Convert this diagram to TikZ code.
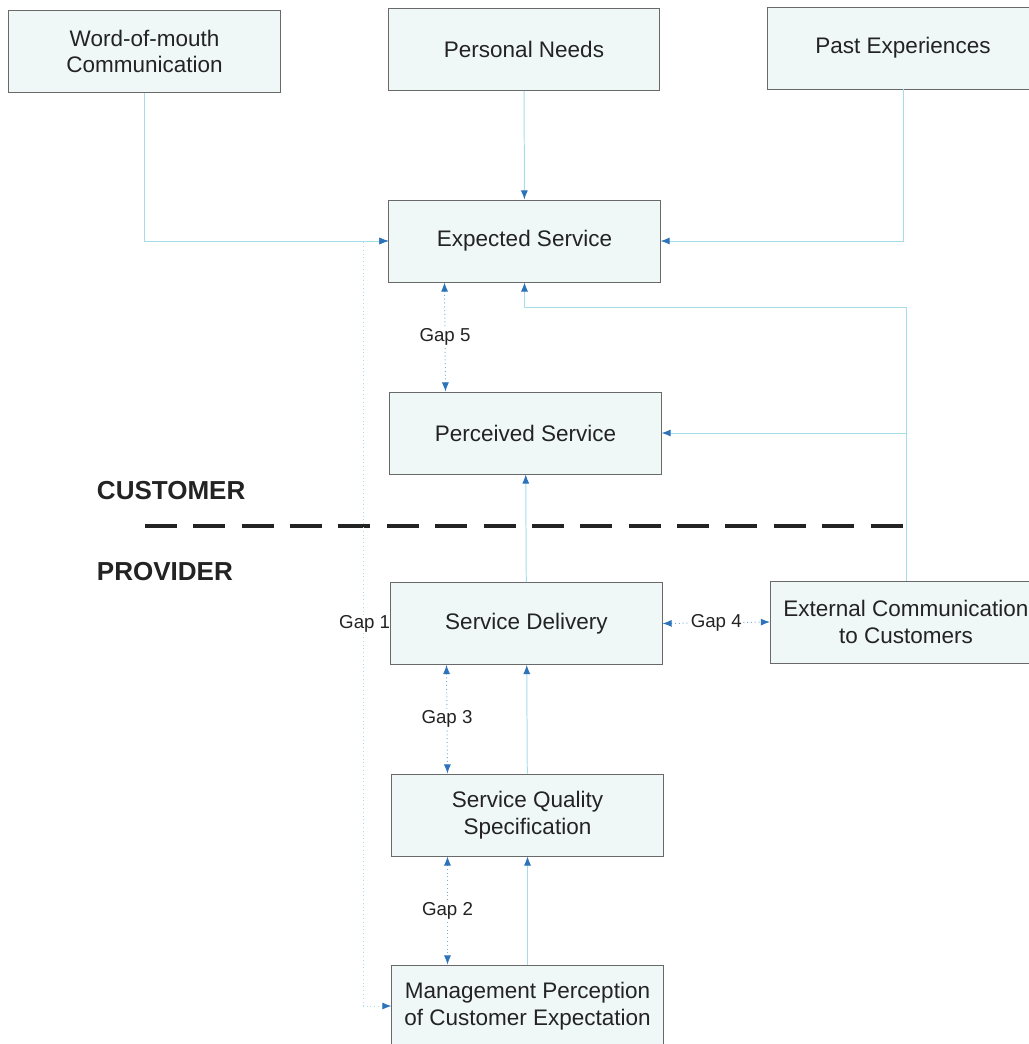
\documentclass[tikz,border=0pt]{standalone}
\usepackage{fontspec}
\setmainfont{Liberation Sans}
\usetikzlibrary{arrows.meta,calc}
\definecolor{boxfill}{RGB}{240,248,247}
\definecolor{boxline}{RGB}{105,105,105}
\definecolor{linkcyan}{RGB}{165,222,232}
\definecolor{tipblue}{RGB}{45,115,185}
\definecolor{gapblue}{RGB}{120,175,215}
\definecolor{txt}{RGB}{35,35,35}
\begin{document}
\begin{tikzpicture}[x=0.025cm,y=-0.025cm,
        every node/.style={text=txt},
        box/.style={draw=boxline, fill=boxfill, line width=0.6pt, minimum width=6.78cm,
            minimum height=2.05cm, align=center, font=\fontsize{16}{19}\selectfont},
        link/.style={draw=linkcyan, line width=0.7pt, -{Latex[length=6.5pt,width=5pt,color=tipblue]}},
        gap/.style={draw=gapblue, line width=0.7pt, dotted,
            {Latex[length=6.5pt,width=5pt,color=tipblue]}-{Latex[length=6.5pt,width=5pt,color=tipblue]}},
        gaplabel/.style={fill=white, inner sep=1pt, font=\fontsize{13.3}{15}\selectfont},
        side/.style={font=\fontsize{18.5}{22}\selectfont\bfseries, anchor=west}]
        \path[use as bounding box, clip] (0,0) rectangle (1029,1044);
        \fill[white] (0,0) rectangle (1029,1044);

        % customer side
        \node[box] (wom) at (144.5,51.5) {Word-of-mouth\\Communication};
        \node[box] (pn) at (524,49.5) {Personal Needs};
        \node[box] (past) at (903,48) {Past Experiences};
        \node[box] (exp) at (524.5,241) {Expected Service};
        \node[box] (per) at (525.5,433) {Perceived Service};

        % provider side
        \node[box] (dlv) at (526.5,623.5) {Service Delivery};
        \node[box] (ext) at (906,622) {External Communication\\to Customers};
        \node[box] (sqs) at (527.5,815) {Service Quality\\Specification};
        \node[box] (mgmt) at (527.5,1006) {Management Perception\\of Customer Expectation};

        \node[side] (cust) at (92,491) {CUSTOMER};
        \node[side] (prov) at (92,572) {PROVIDER};
        \draw[line width=2.8pt, draw=txt, dash pattern=on 22.7pt off 11.7pt] (145,526) -- (907,526);

        \draw[link] (wom.south) |- (exp.west);
        \draw[link] (pn) -- (exp);
        \draw[link] (past.south) |- (exp.east);
        \coordinate (fb) at (906,307);
        \draw[link] (ext.north) -- (fb) -| (exp.south);
        \draw[link] (ext.north |- per.east) -- (per.east);
        \draw[link] (dlv) -- (per);
        \draw[link] (sqs) -- (dlv);
        \draw[link] (mgmt.north) -- (sqs.south);

        % gaps
        \draw[gap] ([xshift=-2cm]exp.south) -- node[gaplabel]{Gap 5} ([xshift=-2cm]per.north);
        \draw[gap] ([xshift=-2cm]dlv.south) -- node[gaplabel]{Gap 3} ([xshift=-2cm]sqs.north);
        \draw[gap] ([xshift=-2cm]sqs.south) -- node[gaplabel]{Gap 2} ([xshift=-2cm]mgmt.north);
        \draw[gap] (dlv.east) -- node[gaplabel]{Gap 4} (ext.west);
        \draw[gap, draw=linkcyan] (mgmt.west) -- ++(-28,0) |- (exp.west);
        \node[gaplabel, anchor=east, inner sep=0pt] (gone) at (dlv.west) {Gap 1};
    \end{tikzpicture}
\end{document}
